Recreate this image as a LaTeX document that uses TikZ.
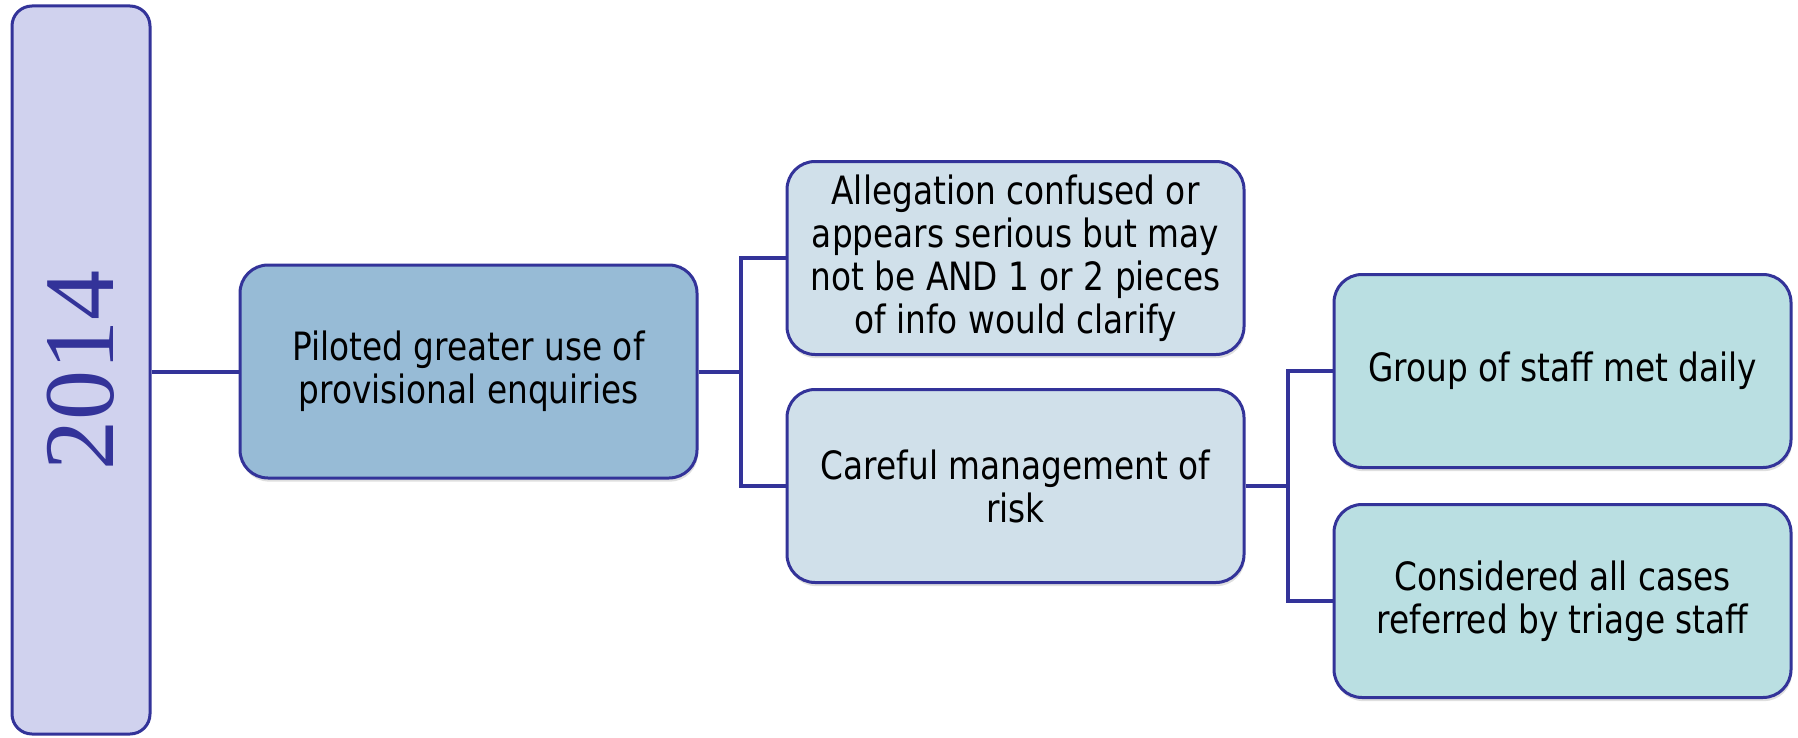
\documentclass[tikz,border=0pt]{standalone}
\usepackage{fontspec}
\setmainfont[FakeStretch=0.84]{DejaVu Sans}
\newfontfamily\yearfont{Liberation Serif}
\usetikzlibrary{positioning,shadows}

\definecolor{frameblue}{HTML}{333399}
\definecolor{yearfill}{HTML}{D0D2EE}
\definecolor{mainfill}{HTML}{97BBD6}
\definecolor{midfill}{HTML}{D0E0EA}
\definecolor{leaffill}{HTML}{BADFE2}

\begin{document}
\begin{tikzpicture}[
  node distance=16pt and 43.5pt,
  every node/.style={font=\fontsize{19.5}{21.5}\selectfont},
  box/.style={rectangle,draw=frameblue,line width=1.5pt,rounded corners=14pt,align=center,
    minimum width=228.5pt,minimum height=96.5pt,
    drop shadow={shadow xshift=0.5pt,shadow yshift=-1.8pt,opacity=0.25}},
  yearbox/.style={rectangle,draw=frameblue,line width=1.5pt,rounded corners=10pt,fill=yearfill,
    minimum width=69pt,minimum height=364pt,text=frameblue,
    font=\yearfont\fontsize{50}{50}\selectfont},
  mainbox/.style={box,fill=mainfill,minimum height=106.5pt},
  midbox/.style={box,fill=midfill},
  leafbox/.style={box,fill=leaffill},
  link/.style={-,line width=2pt,frameblue}
]
\useasboundingbox (0,0) rectangle (899pt,-369pt);

% Year
\node[yearbox] (year) at (40.5pt,-185pt) {\rotatebox{90}{2014}};

% Tree
\node[mainbox, right=43.5pt of year, yshift=-0.75pt] (pilot) {Piloted greater use of\\provisional enquiries};
\node[midbox, right=43.5pt of pilot, yshift=56.75pt] (alleg) {Allegation confused or\\appears serious but may\\not be AND 1 or 2 pieces\\of info would clarify};
\node[midbox, below=of alleg] (risk) {Careful management of\\risk};
\node[leafbox, right=43.5pt of risk, yshift=57.5pt] (staff) {Group of staff met daily};
\node[leafbox, below=17pt of staff] (cases) {Considered all cases\\referred by triage staff};

% Links
\draw[link] (year.east|-pilot.west) -- (pilot.west);
\draw[link] (pilot.east) -| ([xshift=-22.5pt]alleg.west) -- (alleg.west);
\draw[link] (pilot.east) -| ([xshift=-22.5pt]risk.west) -- (risk.west);
\draw[link] (risk.east) -| ([xshift=-22.5pt]staff.west) -- (staff.west);
\draw[link] (risk.east) -| ([xshift=-22.5pt]cases.west) -- (cases.west);
\end{tikzpicture}
\end{document}
